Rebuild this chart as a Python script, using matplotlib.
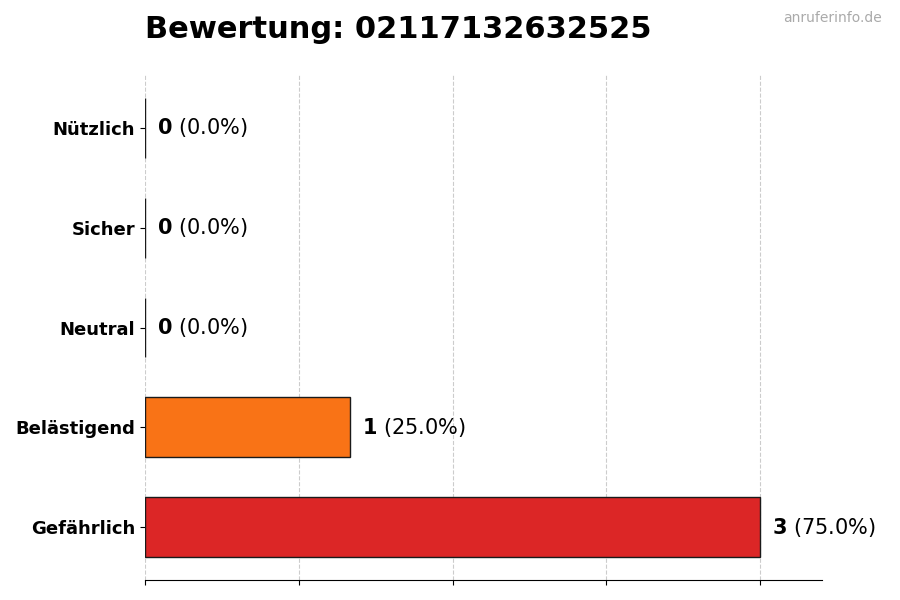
import matplotlib
matplotlib.use("Agg")
import matplotlib.pyplot as plt

# data, bottom to top
categories = ["Gefährlich", "Belästigend", "Neutral", "Sicher", "Nützlich"]
counts = [3, 1, 0, 0, 0]
colors = ["#dc2626", "#f97316", "#9ca3af", "#22c55e", "#3b82f6"]
number = "02117132632525"

total = sum(counts)

fig = plt.figure(figsize=(9, 6), dpi=100)
ax = fig.add_axes([0.161, 0.0333, 0.752, 0.8417])

ypos = list(range(len(categories)))
ax.barh(ypos, counts, height=0.6, color=colors, edgecolor="#1a1a1a", linewidth=1, zorder=2)

ax.set_yticks(ypos)
ax.set_yticklabels(categories, fontsize=13, fontweight="bold")
ax.set_xlim(0, 3.3)
ax.set_xticks([0, 0.75, 1.5, 2.25, 3])
ax.set_xticklabels([])
ax.grid(axis="x", linestyle="--", color="#cccccc", linewidth=0.8, zorder=0)
ax.set_axisbelow(True)
for side in ["top", "right", "left"]:
    ax.spines[side].set_visible(False)

for y, c in zip(ypos, counts):
    pct = c / total * 100 if total else 0
    ax.text(c + 0.06, y, r"$\mathbf{%d}$ (%.1f%%)" % (c, pct),
            va="center", ha="left", fontsize=15)

fig.text(0.161, 0.95, "Bewertung: " + number, fontsize=22, fontweight="bold",
         ha="left", va="center")
fig.text(0.98, 0.97, "anruferinfo.de", fontsize=10, color="#aaaaaa",
         ha="right", va="center")

fig.savefig("out.png", dpi=100)
